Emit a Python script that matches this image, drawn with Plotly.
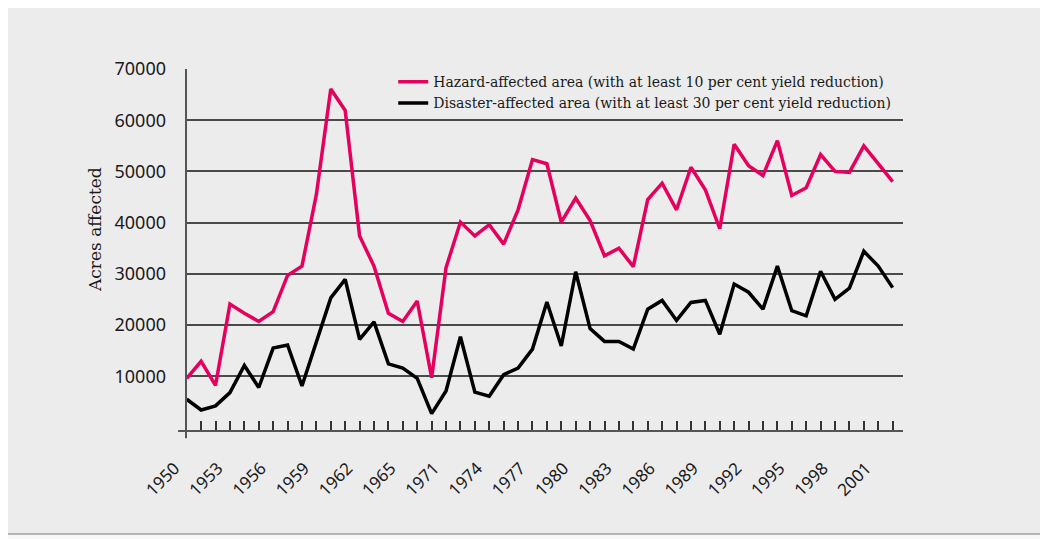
import plotly.graph_objs as go

# Years in the series (no records for 1968-1970)
years = [str(y) for y in list(range(1950, 1968)) + list(range(1971, 2003))]
tick_labels = ['1950', '1953', '1956', '1959', '1962', '1965', '1971', '1974',
               '1977', '1980', '1983', '1986', '1989', '1992', '1995', '1998',
               '2001']
y_ticks = [10000, 20000, 30000, 40000, 50000, 60000, 70000]

# Acres affected
hazard_area = [9600, 12900, 8200, 24100, 22300, 20700, 22600, 29700, 31500,
               45500, 66100, 61900, 37400, 31500, 22300, 20700, 24700, 9700,
               31200, 40100, 37400, 39600, 35800, 42500, 52300, 51500, 40100,
               44800, 40400, 33500, 35000, 31400, 44500, 47700, 42500, 50800,
               46400, 38800, 55300, 51100, 49200, 56000, 45300, 46800, 53300,
               50000, 49800, 55000, 51500, 48000]
disaster_area = [5500, 3400, 4200, 6800, 12100, 7800, 15500, 16100, 8100,
                 16700, 25300, 28900, 17200, 20600, 12400, 11600, 9600, 2700,
                 7100, 17700, 6900, 6100, 10300, 11600, 15300, 24500, 15900,
                 30400, 19300, 16800, 16800, 15300, 23100, 24800, 20900, 24400,
                 24800, 18200, 28000, 26400, 23100, 31500, 22800, 21800, 30500,
                 25000, 27200, 34400, 31500, 27300]

hazard_name = 'Hazard-affected area (with at least 10 per cent yield reduction)'
disaster_name = 'Disaster-affected area (with at least 30 per cent yield reduction)'

serif = 'DejaVu Serif'
sans = 'Noto Sans'

fig = go.Figure()
fig.add_trace(go.Scatter(x=years, y=hazard_area, mode='lines', name=hazard_name,
                         line=dict(color='#e6005e', width=3.5)))
fig.add_trace(go.Scatter(x=years, y=disaster_area, mode='lines', name=disaster_name,
                         line=dict(color='#000000', width=3.5)))

# Paper sheet behind the chart, plus axis lines that overhang a little
fig.add_shape(type='rect', xref='paper', yref='paper',
              x0=-0.2622, x1=1.198, y0=-0.2845, y1=1.196,
              line=dict(color='#a0a0a0', width=1.5), fillcolor='#ececec',
              layer='below')
fig.add_shape(type='line', xref='x domain', yref='y domain',
              x0=0, x1=0, y0=-0.02, y1=1,
              line=dict(color='#555555', width=2))
fig.add_shape(type='line', xref='x domain', yref='y domain',
              x0=-0.011, x1=1, y0=0, y1=0,
              line=dict(color='#555555', width=2))

# y axis title sits a bit above the middle of the axis
fig.add_annotation(text='Acres affected', xref='paper', yref='paper',
                   x=-0.1437, y=0.558, textangle=-90, showarrow=False,
                   font=dict(family=serif, size=17, color='#1a1a1a'))

# page body keeps its default 8px margin, so the figure is 8px smaller
fig.update_layout(
    width=1040, height=531,
    margin=dict(l=178, r=145, t=61, b=108, autoexpand=False),
    paper_bgcolor='#f8f8f8',
    plot_bgcolor='#ececec',
    showlegend=True,
    legend=dict(x=0.289, y=1.008, xanchor='left', yanchor='top',
                bgcolor='rgba(0,0,0,0)',
                font=dict(family=serif, size=14, color='#1a1a1a')),
    xaxis=dict(type='category', range=[-0.05, 49.72], automargin=False,
               tickmode='array', tickvals=years,
               ticktext=[y if y in tick_labels else '' for y in years],
               tickangle=-45, ticks='inside', ticklen=10, tickwidth=1.5,
               tickcolor='#333333', ticklabelstandoff=23, ticklabelshift=-12,
               showgrid=False, zeroline=False, showline=False,
               tickfont=dict(family=sans, size=17, color='#1a1a1a')),
    yaxis=dict(range=[-700, 70000], automargin=False,
               tickmode='array', tickvals=y_ticks,
               ticktext=[str(v) for v in y_ticks],
               ticks='', showgrid=True, gridcolor='#4a4a4a', gridwidth=1.5,
               zeroline=False, showline=False, ticklabelstandoff=19,
               tickfont=dict(family=sans, size=18, color='#1a1a1a')),
)

fig.write_html('out.html')
